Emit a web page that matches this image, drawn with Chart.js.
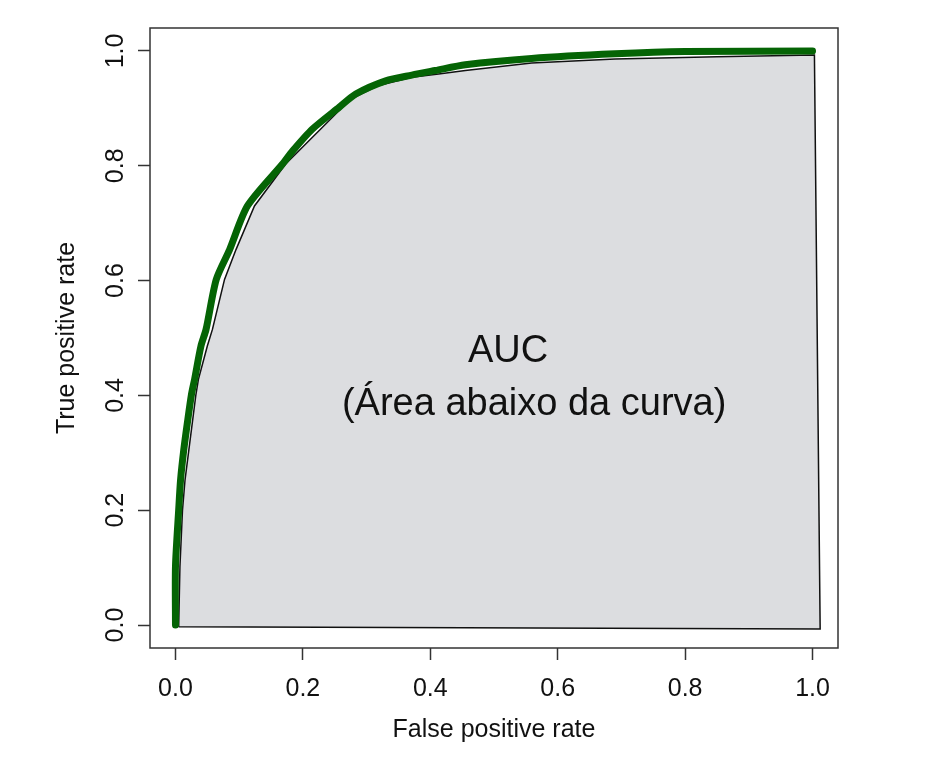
<!DOCTYPE html>
<html>
<head>
<meta charset="utf-8">
<script src="https://cdn.jsdelivr.net/npm/chart.js@4.4.1/dist/chart.umd.min.js"></script>
<style>
  html, body { margin: 0; padding: 0; background: #fff; }
  #wrap { width: 931px; height: 773px; }
</style>
</head>
<body>
<div id="wrap"><canvas id="roc"></canvas></div>
<script>
// ROC curve (false positive rate, true positive rate)
const rocFpr = [0, 0.000, 0.005, 0.008, 0.013, 0.019, 0.025, 0.030, 0.040, 0.048, 0.064, 0.085, 0.113, 0.168, 0.184, 0.215, 0.257, 0.283, 0.330, 0.371, 0.408, 0.455, 0.559, 0.690, 0.800, 1.000];
const rocTpr = [0, 0.102, 0.200, 0.253, 0.305, 0.355, 0.401, 0.428, 0.486, 0.515, 0.602, 0.654, 0.730, 0.803, 0.826, 0.864, 0.902, 0.925, 0.948, 0.958, 0.966, 0.976, 0.987, 0.995, 0.999, 1.000];

// shaded AUC polygon outline (drawn slightly inside the curve)
const areaFpr = [0.005, 0.007, 0.011, 0.015, 0.021, 0.032, 0.036, 0.050, 0.058, 0.077, 0.095, 0.124, 0.173, 0.228, 0.262, 0.277, 0.319, 0.371, 0.413, 0.455, 0.559, 0.690, 0.850, 1.003, 1.012, 0.005];
const areaTpr = [-0.003, 0.102, 0.200, 0.253, 0.305, 0.401, 0.428, 0.486, 0.515, 0.602, 0.654, 0.730, 0.803, 0.864, 0.902, 0.917, 0.940, 0.954, 0.960, 0.966, 0.979, 0.986, 0.990, 0.993, -0.007, -0.003];

const tickValues = [0, 0.2, 0.4, 0.6, 0.8, 1.0];
const xTitle = 'False positive rate';
const yTitle = 'True positive rate';
const aucLabel = ['AUC', '(Área abaixo da curva)'];

const FONT = "'Liberation Sans', Arial, sans-serif";

const toPoints = (xs, ys) => xs.map((x, i) => ({ x: x, y: ys[i] }));

// frame around the plot region, like R's box()
const boxPlugin = {
  id: 'box',
  afterDraw(chart) {
    const { ctx, chartArea: a } = chart;
    ctx.save();
    ctx.strokeStyle = '#333';
    ctx.lineWidth = 1.5;
    ctx.strokeRect(a.left, a.top, a.right - a.left, a.bottom - a.top);
    ctx.restore();
  }
};

// text inside the shaded area
const labelPlugin = {
  id: 'aucText',
  afterDatasetsDraw(chart) {
    const { ctx, scales } = chart;
    ctx.save();
    ctx.fillStyle = '#111';
    ctx.font = '38px ' + FONT;
    ctx.textAlign = 'center';
    ctx.textBaseline = 'middle';
    ctx.fillText(aucLabel[0], scales.x.getPixelForValue(0.522), scales.y.getPixelForValue(0.476));
    ctx.fillText(aucLabel[1], scales.x.getPixelForValue(0.563), scales.y.getPixelForValue(0.385));
    ctx.restore();
  }
};

function fixedTicks(scale) {
  scale.ticks = tickValues.map(v => ({ value: v }));
}

const axisCommon = {
  type: 'linear',
  min: -0.04,
  max: 1.04,
  afterBuildTicks: fixedTicks,
  border: { display: false },
  grid: {
    drawOnChartArea: false,
    drawTicks: true,
    tickLength: 12,
    tickColor: '#333',
    tickWidth: 1.5
  }
};

new Chart(document.getElementById('roc'), {
  type: 'scatter',
  data: {
    datasets: [
      {
        label: 'ROC',
        data: toPoints(rocFpr, rocTpr),
        showLine: true,
        borderColor: '#056405',
        borderWidth: 7,
        borderCapStyle: 'round',
        borderJoinStyle: 'round',
        tension: 0.25,
        pointRadius: 0,
        fill: false,
        order: 1
      },
      {
        label: 'AUC',
        data: toPoints(areaFpr, areaTpr),
        showLine: true,
        borderColor: '#111',
        borderWidth: 1.5,
        backgroundColor: '#dcdde0',
        fill: 'shape',
        tension: 0,
        pointRadius: 0,
        order: 2
      }
    ]
  },
  options: {
    responsive: true,
    maintainAspectRatio: false,
    animation: false,
    layout: { padding: { top: 28, right: 93, left: 30, bottom: 0 } },
    plugins: {
      legend: { display: false },
      tooltip: { enabled: false }
    },
    scales: {
      x: Object.assign({}, axisCommon, {
        afterFit: s => { s.height = 773 - 648; },
        ticks: {
          color: '#111',
          font: { family: FONT, size: 25 },
          padding: 14,
          maxRotation: 0,
          callback: v => Number(v).toFixed(1)
        },
        title: {
          display: true,
          text: xTitle,
          color: '#111',
          font: { family: FONT, size: 25 },
          padding: { top: 0, bottom: 28 }
        }
      }),
      y: Object.assign({}, axisCommon, {
        afterFit: s => { s.width = 150 - 30; },
        ticks: {
          color: '#111',
          font: { family: FONT, size: 25 },
          padding: 5,
          crossAlign: 'center',
          minRotation: 90,
          maxRotation: 90,
          callback: v => Number(v).toFixed(1)
        },
        title: {
          display: true,
          text: yTitle,
          color: '#111',
          font: { family: FONT, size: 25 },
          padding: { top: 22, bottom: 0 }
        }
      })
    }
  },
  plugins: [boxPlugin, labelPlugin]
});
</script>
</body>
</html>
